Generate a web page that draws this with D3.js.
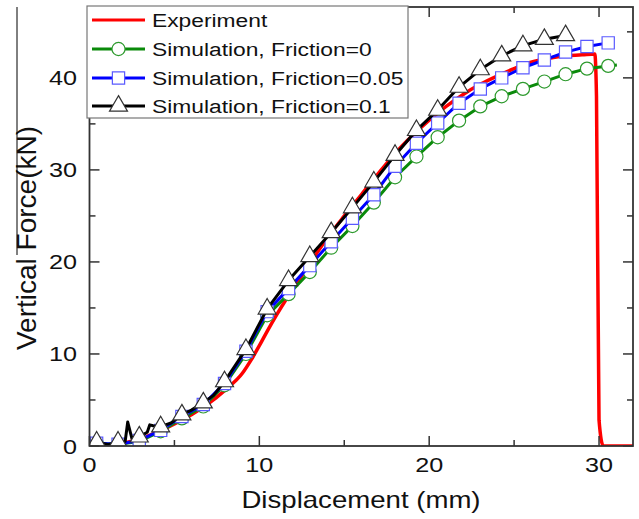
<!DOCTYPE html>
<html><head><meta charset="utf-8">
<script src="https://cdn.jsdelivr.net/npm/d3@7/dist/d3.min.js"></script>
<style>body{margin:0;background:#fff}svg{display:block}text{font-family:"Liberation Sans",Arial,sans-serif;fill:#111}</style>
</head><body><svg id="c" width="639" height="519"></svg>
<script>
// ---------- data ----------
const seriesNames = ["Experiment","Simulation, Friction=0","Simulation, Friction=0.05","Simulation, Friction=0.1"];
const xTicks = [0,10,20,30];
const yTicks = [0,10,20,30,40];

const expX = [0.8,1.5,2.0,3.0,4.0,5.0,6.0,7.0,8.0,9.0,9.5,10.0,10.5,11.0,11.5,12.0,12.5,13.0,14.0,15.0,16.0,17.0,18.0,19.0,20.0,21.0,22.0,23.0,24.0,25.0,26.0,27.0,28.0,29.0,29.75,29.85,30.0,30.25,32.0];
const expY = [0,0.1,0.3,0.8,1.5,2.4,3.4,4.6,6.1,7.9,9.3,10.9,12.6,14.2,15.7,17.1,18.5,19.9,22.6,25.0,27.3,29.6,31.8,33.7,35.4,36.9,38.2,39.3,40.2,41.0,41.7,42.1,42.4,42.5,42.6,38.0,2.8,0,0];

const f0X = [0.42,1.68,2.93,4.19,5.44,6.70,7.95,9.21,10.46,11.72,12.97,14.23,15.48,16.74,17.99,19.25,20.50,21.76,23.01,24.27,25.52,26.78,28.03,29.29,30.54,31.05];
const f0Y = [0.3,0.2,0.5,1.6,3.0,4.3,6.6,10.0,14.2,16.5,18.9,21.55,23.9,26.45,29.2,31.45,33.55,35.35,36.9,38.0,38.8,39.6,40.4,41.0,41.3,41.4];
const f0MarkX = [0.42,1.68,2.93,4.19,5.44,6.70,7.95,9.21,10.46,11.72,12.97,14.23,15.48,16.74,17.99,19.25,20.50,21.76,23.01,24.27,25.52,26.78,28.03,29.29,30.54];
const f0MarkY = [0.3,0.2,0.5,1.6,3.0,4.3,6.6,10.0,14.2,16.5,18.9,21.55,23.9,26.45,29.2,31.45,33.55,35.35,36.9,38.0,38.8,39.6,40.4,41.0,41.3];

const f05X = [0.42,1.68,2.93,4.19,5.44,6.70,7.95,9.21,10.46,11.72,12.97,14.23,15.48,16.74,17.99,19.25,20.50,21.76,23.01,24.27,25.52,26.78,28.03,29.29,30.54];
const f05Y = [0.3,0.2,0.6,1.7,3.2,4.5,6.8,10.3,14.6,17.1,19.6,22.2,24.75,27.3,30.4,32.9,35.1,37.25,38.8,40.0,41.1,41.95,42.8,43.4,43.8];

const f1X = [0.42,1.1,1.68,2.1,2.25,2.5,2.93,3.4,3.55,3.75,4.19,4.8,5.44,6.0,6.70,7.3,7.95,9.21,10.46,11.72,12.97,14.23,15.48,16.74,17.99,19.25,20.50,21.76,23.01,24.27,25.52,26.78,28.03];
const f1Y = [0.45,0.15,0.45,0.5,2.6,0.8,1.0,1.5,2.3,2.2,2.1,2.5,3.4,3.9,4.7,5.5,7.0,10.5,14.9,18.0,20.6,23.2,25.9,28.7,31.6,34.3,36.5,39.0,40.9,42.4,43.5,44.2,44.6];
const f1MarkX = [0.42,1.68,2.93,4.19,5.44,6.70,7.95,9.21,10.46,11.72,12.97,14.23,15.48,16.74,17.99,19.25,20.50,21.76,23.01,24.27,25.52,26.78,28.03];
const f1MarkY = [0.45,0.45,1.0,2.1,3.4,4.7,7.0,10.5,14.9,18.0,20.6,23.2,25.9,28.7,31.6,34.3,36.5,39.0,40.9,42.4,43.5,44.2,44.6];

// ---------- layout ----------
const svg = d3.select("#c");
const L = 89.5, R = 633, T = 7, B = 446;
const x = d3.scaleLinear().domain([0,32]).range([L,R]);
const y = d3.scaleLinear().domain([0,47.7]).range([B,T]);

const zip = (a,b) => a.map((v,i)=>[v,b[i]]);
const line = d3.line().x(d=>x(d[0])).y(d=>y(d[1]));
const smooth = d3.line().x(d=>x(d[0])).y(d=>y(d[1])).curve(d3.curveMonotoneX);

svg.append("clipPath").attr("id","clip").append("rect").attr("x",L).attr("y",T).attr("width",R-L).attr("height",B-T);
const g = svg.append("g").attr("clip-path","url(#clip)");

const cRed="#ff0000", cGreen="#0a8a0a", cBlue="#0000ff", cBlk="#000000";
const mkGreen="#2e9a2e", mkBlue="#5a5aff", mkBlk="#333333";

const sym = {
  circle: d3.symbol(d3.symbolCircle, 135)(),
  square: d3.symbol(d3.symbolSquare, 150)(),
  tri: d3.symbol(d3.symbolTriangle, 140)()
};

g.append("path").attr("d", smooth(zip(expX,expY))).attr("fill","none").attr("stroke",cRed).attr("stroke-width",3.5).attr("stroke-linejoin","round");

g.append("path").attr("d", line(zip(f0X,f0Y))).attr("fill","none").attr("stroke",cGreen).attr("stroke-width",3).attr("stroke-linejoin","round");
g.selectAll(".m0").data(zip(f0MarkX,f0MarkY)).enter().append("path")
  .attr("d",sym.circle).attr("transform",d=>`translate(${x(d[0])},${y(d[1])})`)
  .attr("fill","#fff").attr("stroke",mkGreen).attr("stroke-width",1.2);

g.append("path").attr("d", line(zip(f05X,f05Y))).attr("fill","none").attr("stroke",cBlue).attr("stroke-width",3).attr("stroke-linejoin","round");
g.selectAll(".m05").data(zip(f05X,f05Y)).enter().append("path")
  .attr("d",sym.square).attr("transform",d=>`translate(${x(d[0])},${y(d[1])})`)
  .attr("fill","#fff").attr("stroke",mkBlue).attr("stroke-width",1.2);

g.append("path").attr("d", line(zip(f1X,f1Y))).attr("fill","none").attr("stroke",cBlk).attr("stroke-width",3).attr("stroke-linejoin","round");
g.selectAll(".m1").data(zip(f1MarkX,f1MarkY)).enter().append("path")
  .attr("d",sym.tri).attr("transform",d=>`translate(${x(d[0])},${y(d[1])})`)
  .attr("fill","#fff").attr("stroke",mkBlk).attr("stroke-width",1.2);

// ---------- axes ----------
const axCol = "#333";
const major = 10, minor = 6;
const xMinor = [5,15,25], yMinor = [5,15,25,35,45];
const ax = svg.append("g");
function tickset(vals, len, axis){
  vals.forEach(v=>{
    if(axis==="x"){
      ax.append("line").attr("x1",x(v)).attr("x2",x(v)).attr("y1",B).attr("y2",B-len).attr("stroke",axCol).attr("stroke-width",1.5);
      ax.append("line").attr("x1",x(v)).attr("x2",x(v)).attr("y1",T).attr("y2",T+len).attr("stroke",axCol).attr("stroke-width",1.5);
    } else {
      ax.append("line").attr("x1",L).attr("x2",L+len).attr("y1",y(v)).attr("y2",y(v)).attr("stroke",axCol).attr("stroke-width",1.5);
      ax.append("line").attr("x1",R).attr("x2",R-len).attr("y1",y(v)).attr("y2",y(v)).attr("stroke",axCol).attr("stroke-width",1.5);
    }
  });
}
tickset(xTicks, major, "x"); tickset(xMinor, minor, "x");
tickset(yTicks, major, "y"); tickset(yMinor, minor, "y");
ax.append("rect").attr("x",L).attr("y",T).attr("width",R-L).attr("height",B-T).attr("fill","none").attr("stroke",axCol).attr("stroke-width",1.8);

xTicks.forEach(v=>{
  svg.append("text").attr("transform",`translate(${x(v)},472) scale(1.2,1)`).attr("text-anchor","middle").attr("font-size",21).text(v);
});
yTicks.forEach(v=>{
  svg.append("text").attr("transform",`translate(77,${y(v)+7.5}) scale(1.2,1)`).attr("text-anchor","end").attr("font-size",21).text(v);
});

svg.append("text").attr("transform","translate(361,508) scale(1.2,1)").attr("text-anchor","middle").attr("font-size",23).text("Displacement (mm)");
svg.append("text").attr("transform","translate(36,238) rotate(-90)").attr("text-anchor","middle").attr("font-size",28).text("Vertical Force(kN)");

svg.append("line").attr("x1",17).attr("x2",17).attr("y1",7).attr("y2",255).attr("stroke","#000").attr("stroke-width",1);

// ---------- legend ----------
const lg = svg.append("g");
lg.append("rect").attr("x",87).attr("y",6).attr("width",321).attr("height",112).attr("fill","#fff").attr("stroke","#777").attr("stroke-width",1.2);
const rows = [20,49,78,106];
const lcol = [cRed,cGreen,cBlue,cBlk];
const lsym = [null,"circle","square","tri"];
const lmk = [null,mkGreen,mkBlue,mkBlk];
seriesNames.forEach((nm,i)=>{
  lg.append("line").attr("x1",92).attr("x2",145).attr("y1",rows[i]).attr("y2",rows[i]).attr("stroke",lcol[i]).attr("stroke-width",3);
  if(lsym[i]) lg.append("path").attr("d",sym[lsym[i]]).attr("transform",`translate(118.5,${rows[i]})`).attr("fill","#fff").attr("stroke",lmk[i]).attr("stroke-width",1.2);
  lg.append("text").attr("transform",`translate(152,${rows[i]+7}) scale(1.2,1)`).attr("font-size",19).text(nm);
});
</script></body></html>
